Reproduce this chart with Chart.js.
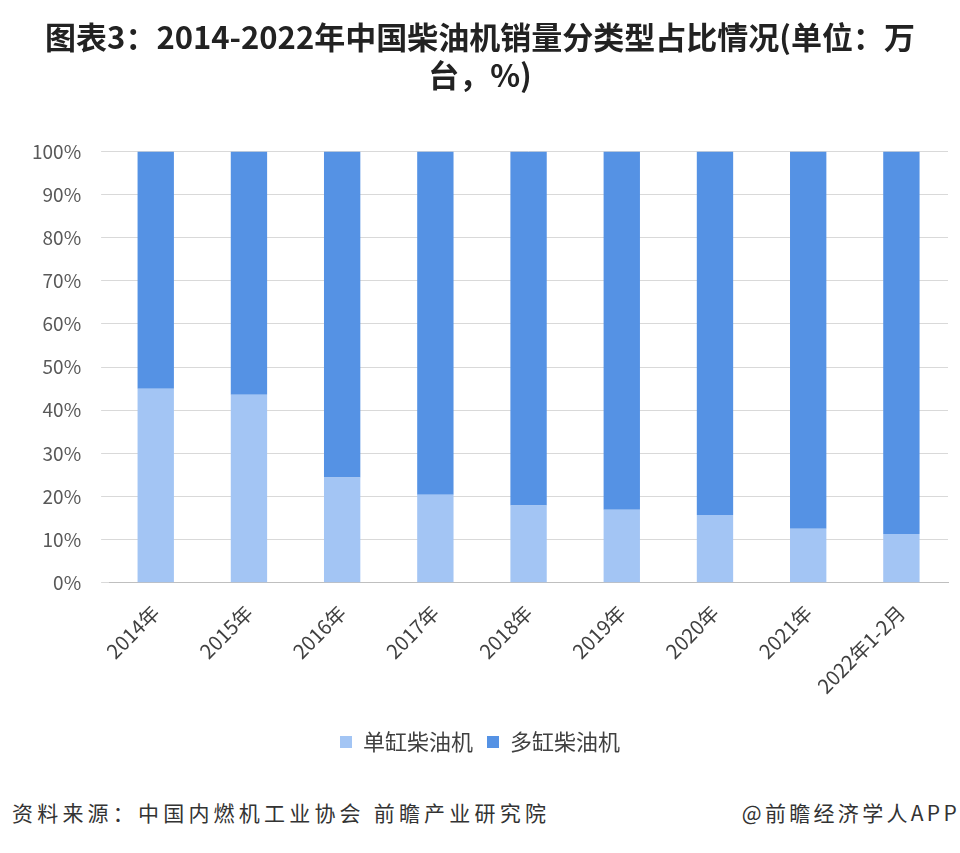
<!DOCTYPE html>
<html>
<head>
<meta charset="utf-8">
<script src="https://cdn.jsdelivr.net/npm/chart.js@4/dist/chart.umd.min.js"></script>
<style>
  body { margin: 0; background: #fff; font-family: "Noto Sans CJK SC", sans-serif; }
  #wrap { position: relative; width: 960px; height: 853px; }
  #box { position: absolute; left: 0; top: 0; width: 960px; height: 777px; }
  .foot { position: absolute; top: 797px; font-size: 21px; letter-spacing: 4.2px; color: #333; line-height: 30px; }
</style>
</head>
<body>
<div id="wrap">
  <div id="box"><canvas id="c"></canvas></div>
  <div class="foot" style="left:12px">资料来源：中国内燃机工业协会 前瞻产业研究院</div>
  <div class="foot" style="right:0; letter-spacing: 3.3px">@前瞻经济学人APP</div>
</div>
<script>
const categories = ['2014年', '2015年', '2016年', '2017年', '2018年', '2019年', '2020年', '2021年', '2022年1-2月'];
const singleCyl = [45.0, 43.6, 24.4, 20.4, 17.9, 16.9, 15.7, 12.5, 11.3];
const multiCyl  = [55.0, 56.4, 75.6, 79.6, 82.1, 83.1, 84.3, 87.5, 88.7];
const yTicks = [0, 10, 20, 30, 40, 50, 60, 70, 80, 90, 100];

const FONT = '"Noto Sans CJK SC", "Noto Sans", sans-serif';

new Chart(document.getElementById('c'), {
  type: 'bar',
  data: {
    labels: categories,
    datasets: [
      { label: '单缸柴油机', data: singleCyl, backgroundColor: '#a3c5f4', barPercentage: 0.39, categoryPercentage: 1 },
      { label: '多缸柴油机', data: multiCyl,  backgroundColor: '#5592e4', barPercentage: 0.39, categoryPercentage: 1 },
    ],
  },
  options: {
    responsive: true, maintainAspectRatio: false, animation: false,
    layout: { padding: { left: 12, right: 12, top: 0, bottom: 14 } },
    plugins: {
      title: {
        display: true,
        text: ['图表3：2014-2022年中国柴油机销量分类型占比情况(单位：万', '台，%)'],
        font: { family: FONT, size: 31, weight: 'bold' }, color: '#222',
        padding: { top: 19, bottom: 58 }, lineHeight: 1.05,
      },
      legend: {
        position: 'bottom',
        labels: { font: { family: FONT, size: 22 }, color: '#404040', boxWidth: 12, boxHeight: 12, padding: 14 },
      },
      tooltip: { enabled: false },
    },
    scales: {
      x: {
        stacked: true,
        grid: { display: false },
        border: { color: '#bfbfbf' },
        ticks: { font: { family: FONT, size: 20 }, color: '#404040', maxRotation: 45, minRotation: 45, padding: 10 },
        afterFit: s => { s.height += 9; },
      },
      y: {
        stacked: true, min: 0, max: 100,
        afterBuildTicks: s => { s.ticks = yTicks.map(v => ({ value: v })); },
        grid: { color: '#d9d9d9' },
        border: { display: false },
        ticks: { font: { family: FONT, size: 19 }, color: '#595959', padding: 20, callback: v => v + '%' },
      },
    },
  },
});
</script>
</body>
</html>
